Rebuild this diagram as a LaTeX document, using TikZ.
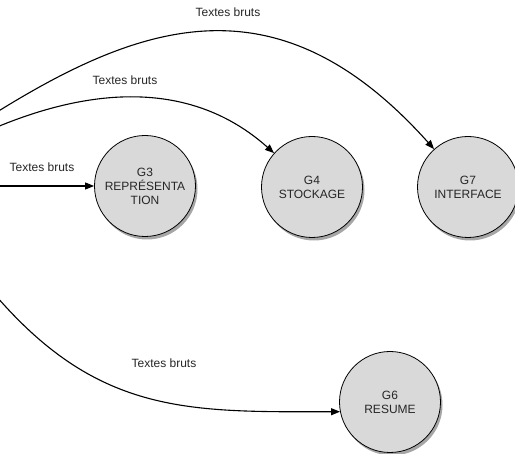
\documentclass[tikz,border=0pt]{standalone}
\usepackage{fontspec}
\setmainfont{Liberation Sans}
\usetikzlibrary{arrows.meta,shadows}
\begin{document}
\begin{tikzpicture}[x=1pt,y=-1pt,
  proc/.style={circle,draw=black,line width=0.8pt,fill=gray!30,
    minimum size=101pt,inner sep=0pt,align=center,
    font=\fontsize{12}{14}\selectfont,text=black!85,
    drop shadow={shadow xshift=2pt,shadow yshift=-3pt,fill=black,opacity=0.35}},
  flow/.style={draw=black,line width=1.1pt,-{Triangle[length=9pt,width=7pt]}},
  lbl/.style={font=\fontsize{12}{14}\selectfont,text=black!85,inner sep=0pt}]
\useasboundingbox (0,0) rectangle (515,454);
\clip (0,0) rectangle (515,454);

% processes
\node[proc] (g3) at (145,186) {G3\\REPRÉSENTA\\TION};
\node[proc] (g4) at (312,187) {G4\\STOCKAGE};
\node[proc] (g7) at (468,187) {G7\\INTERFACE};
\node[proc] (g6) at (390,402) {G6\\RESUME};

% flows enter from the source on the left
\coordinate (s7) at (-3,112);
\coordinate (s4) at (-3,127);
\coordinate (s3) at (-3,186);
\coordinate (s6) at (-3,297);

\draw[flow] (s7) .. controls (147,19) and (281,-22) .. (g7);
\draw[flow] (s4) .. controls (91,88) and (191,79) .. (g4);
\draw[flow] (s3) -- (g3);
\draw[flow] (s6) .. controls (100,415) and (190,412) .. (g6.191);

% flow labels
\node[lbl] (l7) at (228,12) {Textes bruts};
\node[lbl] (l4) at (125,80) {Textes bruts};
\node[lbl] (l3) at (42,167) {Textes bruts};
\node[lbl] (l6) at (164,363) {Textes bruts};
\end{tikzpicture}
\end{document}
